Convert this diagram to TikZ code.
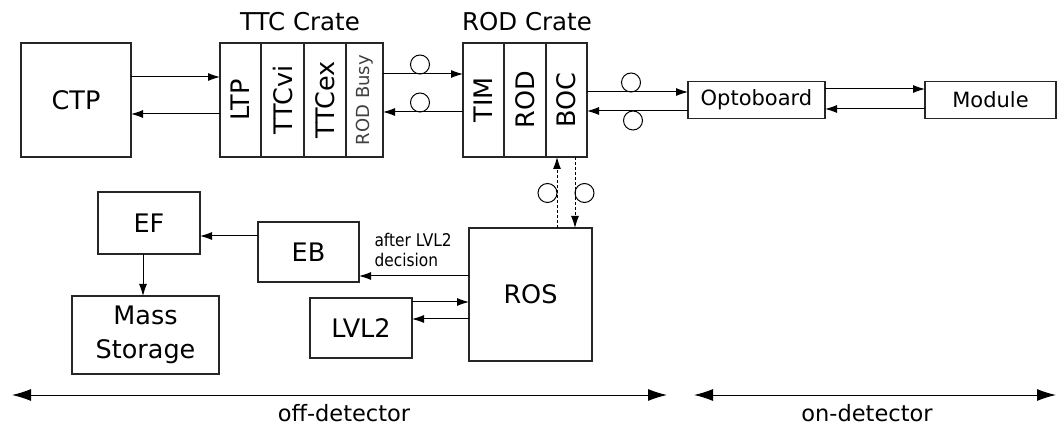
\documentclass[tikz,border=0pt]{standalone}
\usepackage{fontspec}
\usepackage{graphicx}
\setmainfont{DejaVu Sans}
\newfontfamily\condfont[FakeStretch=0.88]{DejaVu Sans}
\usetikzlibrary{arrows.meta,positioning}

\tikzset{
    box/.style={draw=black!85, line width=1.1pt, inner sep=0pt, outer sep=0pt,
      font=\fontsize{25.5}{34}\selectfont},
    slot/.style={box, minimum width=#1, minimum height=114}
  }
\tikzset{
    sig/.style={line width=1pt, -{Latex[length=12pt,width=8pt]}},
    fib/.style={sig, dash pattern=on 3pt off 2pt},
    span/.style={line width=1pt, {Latex[length=19pt,width=12pt]}-{Latex[length=19pt,width=12pt]}},
    pics/fibre/.style={
      code={
        \draw[line width=1pt] (0,0) circle(9.5pt);
      }
    }
  }

\begin{document}
\begin{tikzpicture}[x=1pt,y=-1pt]
    \useasboundingbox (0,0) rectangle (1057,427);

    \node[box, minimum width=110, minimum height=114] (ctp) at (76,100) {CTP};

    \node[slot=41, anchor=west] (ltp) at (220,100) {\rotatebox{90}{LTP}};
    \node[slot=43, right=0pt of ltp] (ttcvi) {\rotatebox{90}{TTCvi}};
    \node[slot=42, right=0pt of ttcvi] (ttcex) {\rotatebox{90}{TTCex}};
    \node[slot=37, right=0pt of ttcex, font=\fontsize{18}{20}\selectfont, text=black!75] (busy) {\rotatebox{90}{ROD Busy}};

    \node[slot=41, anchor=west] (tim) at (463,100) {\rotatebox{90}{TIM}};
    \node[slot=42, right=0pt of tim] (rod) {\rotatebox{90}{ROD}};
    \node[slot=41, right=0pt of rod] (boc) {\rotatebox{90}{BOC}};

    \node[font=\fontsize{24.5}{26}\selectfont] (ttctitle) at (300,22) {TTC Crate};
    \node[font=\fontsize{24.5}{26}\selectfont] (rodtitle) at (527,22) {ROD Crate};

    \node[box, minimum width=137, minimum height=37, font=\fontsize{21}{24}\selectfont] (opto) at (756.5,100) {Optoboard};
    \node[box, minimum width=131, minimum height=37, font=\fontsize{21}{24}\selectfont] (module) at (990.5,100) {Module};

    \node[box, minimum width=123, minimum height=133] (ros) at (530.5,294.5) {ROS};
    \node[box, minimum width=101, minimum height=60] (eb) at (308.5,252) {EB};
    \node[box, minimum width=102, minimum height=62] (ef) at (149,223) {EF};
    \node[box, minimum width=147, minimum height=78, align=center] (mass) at (145.5,335) {Mass\\Storage};
    \node[box, minimum width=102, minimum height=60] (lvl2) at (361,328) {LVL2};

    \draw[sig] ([yshift=23]ctp.east) -- ([yshift=23]ltp.west);
    \draw[sig] ([yshift=-14]ltp.west) -- ([yshift=-14]ctp.east);

    \draw[sig] ([yshift=26]busy.east) -- ([yshift=26]tim.west);
    \draw[sig] ([yshift=-12]tim.west) -- ([yshift=-12]busy.east);
    \draw (420,64.5) pic{fibre};
    \draw (420,102.5) pic{fibre};

    \draw[sig] ([yshift=8]boc.east) -- ([yshift=8]opto.west);
    \draw[sig] ([yshift=-11]opto.west) -- ([yshift=-11]boc.east);
    \draw (631,82.5) pic{fibre};
    \draw (633,120.5) pic{fibre};

    \draw[sig] ([yshift=11]opto.east) -- ([yshift=11]module.west);
    \draw[sig] ([yshift=-9]module.west) -- ([yshift=-9]opto.east);

    \coordinate (rosup) at ([xshift=-9.5]boc.south);
    \coordinate (rosdown) at ([xshift=8.5]boc.south);
    \draw[fib] (rosup |- ros.north) -- (rosup);
    \draw[fib] (rosdown) -- (rosdown |- ros.north);
    \draw (547.5,193) pic{fibre};
    \draw (584.5,193) pic{fibre};

    \draw[sig] ([yshift=16]eb.west) -- ([yshift=-13]ef.east);
    \draw[sig] ([xshift=-6]ef.south) -- ([xshift=-2.5]mass.north);
    \draw[sig] ([yshift=18.5]ros.west) -- ([yshift=-24]eb.east);
    \draw[sig] ([yshift=26]lvl2.east) -- ([yshift=-7.5]ros.west);
    \draw[sig] ([yshift=-24.5]ros.west) -- ([yshift=9]lvl2.east);

    \node[anchor=west, align=left, font=\condfont\fontsize{17.5}{20}\selectfont] (decision) at (371,250) {after LVL2\\decision};

    \coordinate (offl) at (12,395);
    \coordinate (offr) at (667,395);
    \coordinate (onl) at (694,395);
    \coordinate (onr) at (1056,395);
    \draw[span] (offl) -- (offr);
    \draw[span] (onl) -- (onr);

    \node[font=\fontsize{22.5}{26}\selectfont] (offdet) at (344,413) {off-detector};
    \node[font=\fontsize{22.5}{26}\selectfont] (ondet) at (867,413) {on-detector};

\end{tikzpicture}
\end{document}
